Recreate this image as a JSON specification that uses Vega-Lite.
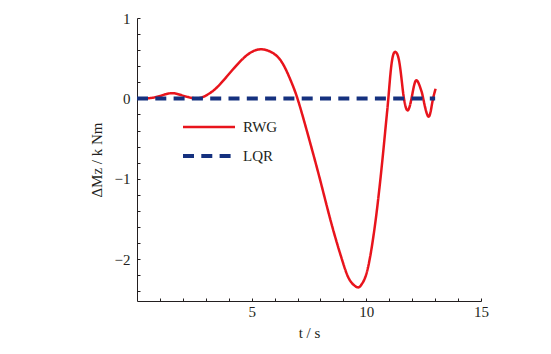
{
  "$schema": "https://vega.github.io/schema/vega-lite/v6.json",
  "width": 344,
  "height": 283,
  "autosize": {"type": "none"},
  "padding": {"left": 137, "top": 18, "right": 70, "bottom": 53},
  "background": "white",
  "config": {"view": {"stroke": null}, "font": "Liberation Serif"},
  "data": {
    "values": [
      {"series": "RWG", "t": 0, "v": 0},
      {"series": "RWG", "t": 0.5, "v": 0.002},
      {"series": "RWG", "t": 1.0, "v": 0.03},
      {"series": "RWG", "t": 1.5, "v": 0.065},
      {"series": "RWG", "t": 2.0, "v": 0.035},
      {"series": "RWG", "t": 2.6, "v": 0.0},
      {"series": "RWG", "t": 3.0, "v": 0.035},
      {"series": "RWG", "t": 3.3, "v": 0.09},
      {"series": "RWG", "t": 3.6, "v": 0.17},
      {"series": "RWG", "t": 4.0, "v": 0.3},
      {"series": "RWG", "t": 4.4, "v": 0.43},
      {"series": "RWG", "t": 4.9, "v": 0.56},
      {"series": "RWG", "t": 5.45, "v": 0.61},
      {"series": "RWG", "t": 6.0, "v": 0.55},
      {"series": "RWG", "t": 6.4, "v": 0.41},
      {"series": "RWG", "t": 6.75, "v": 0.19},
      {"series": "RWG", "t": 7.05, "v": -0.05},
      {"series": "RWG", "t": 7.5, "v": -0.5},
      {"series": "RWG", "t": 8.0, "v": -1.03},
      {"series": "RWG", "t": 8.5, "v": -1.58},
      {"series": "RWG", "t": 9.0, "v": -2.06},
      {"series": "RWG", "t": 9.3, "v": -2.27},
      {"series": "RWG", "t": 9.62, "v": -2.35},
      {"series": "RWG", "t": 9.8, "v": -2.31},
      {"series": "RWG", "t": 9.96, "v": -2.22},
      {"series": "RWG", "t": 10.16, "v": -1.98},
      {"series": "RWG", "t": 10.38, "v": -1.57},
      {"series": "RWG", "t": 10.55, "v": -1.17},
      {"series": "RWG", "t": 10.71, "v": -0.74},
      {"series": "RWG", "t": 10.86, "v": -0.3},
      {"series": "RWG", "t": 10.96, "v": 0},
      {"series": "RWG", "t": 11.06, "v": 0.33},
      {"series": "RWG", "t": 11.17, "v": 0.54},
      {"series": "RWG", "t": 11.29, "v": 0.575},
      {"series": "RWG", "t": 11.42, "v": 0.48},
      {"series": "RWG", "t": 11.54, "v": 0.23},
      {"series": "RWG", "t": 11.64, "v": 0},
      {"series": "RWG", "t": 11.8, "v": -0.15},
      {"series": "RWG", "t": 11.97, "v": 0},
      {"series": "RWG", "t": 12.09, "v": 0.17},
      {"series": "RWG", "t": 12.22, "v": 0.22},
      {"series": "RWG", "t": 12.38, "v": 0.11},
      {"series": "RWG", "t": 12.48, "v": 0},
      {"series": "RWG", "t": 12.7, "v": -0.225},
      {"series": "RWG", "t": 12.87, "v": -0.06},
      {"series": "RWG", "t": 13.02, "v": 0.12},
      {"series": "LQR", "t": 0, "v": 0},
      {"series": "LQR", "t": 13.0, "v": 0}
    ]
  },
  "encoding": {
    "x": {
      "field": "t", "type": "quantitative",
      "scale": {"domain": [0, 15], "nice": false, "zero": false},
      "axis": {
        "values": [1,2,3,4,5,6,7,8,9,10,11,12,13,14,15],
        "labelExpr": "datum.value % 5 === 0 ? datum.label : ''",
        "grid": false, "tickSize": -3, "labelPadding": 6,
        "domainColor": "#231f20", "tickColor": "#231f20", "labelColor": "#231f20",
        "labelFont": "Liberation Serif", "labelFontSize": 15,
        "labelOverlap": false, "labelFlush": false,
        "title": "t / s", "titleFont": "Liberation Serif", "titleFontSize": 15,
        "titleFontWeight": "normal", "titleColor": "#231f20", "titlePadding": 6
      }
    },
    "y": {
      "field": "v", "type": "quantitative",
      "scale": {"domain": [-2.52, 1], "nice": false, "zero": false},
      "axis": {
        "values": [-2.4,-2.2,-2,-1.8,-1.6,-1.4,-1.2,-1,-0.8,-0.6,-0.4,-0.2,0,0.2,0.4,0.6,0.8,1],
        "labelExpr": "abs(datum.value - round(datum.value)) < 0.001 ? format(round(datum.value), 'd') : ''",
        "grid": false, "tickSize": -3, "labelPadding": 10,
        "domainColor": "#231f20", "tickColor": "#231f20", "labelColor": "#231f20",
        "labelFont": "Liberation Serif", "labelFontSize": 15,
        "labelOverlap": false, "labelFlush": false,
        "title": "ΔMz / k Nm", "titleFont": "Liberation Serif", "titleFontSize": 15,
        "titleFontWeight": "normal", "titleColor": "#231f20", "titlePadding": 10
      }
    },
    "color": {
      "field": "series", "type": "nominal",
      "scale": {"domain": ["RWG", "LQR"], "range": ["#e8141c", "#15317f"]},
      "legend": {
        "orient": "none", "legendX": 44, "legendY": 99,
        "title": null, "padding": 0,
        "symbolType": "stroke", "symbolSize": 2704,
        "clipHeight": 20, "rowPadding": 9, "labelOffset": 6,
        "labelFont": "Liberation Serif", "labelFontSize": 15, "labelColor": "#231f20"
      }
    },
    "strokeDash": {
      "field": "series", "type": "nominal",
      "scale": {"domain": ["RWG", "LQR"], "range": [[1, 0], [11, 7.3]]}
    },
    "strokeWidth": {
      "field": "series", "type": "nominal",
      "scale": {"domain": ["RWG", "LQR"], "range": [2.5, 4]}
    }
  },
  "layer": [
    {
      "transform": [{"filter": "datum.series === 'RWG'"}],
      "mark": {"type": "line", "interpolate": "natural"}
    },
    {
      "transform": [{"filter": "datum.series === 'LQR'"}],
      "mark": {"type": "line"}
    }
  ]
}
